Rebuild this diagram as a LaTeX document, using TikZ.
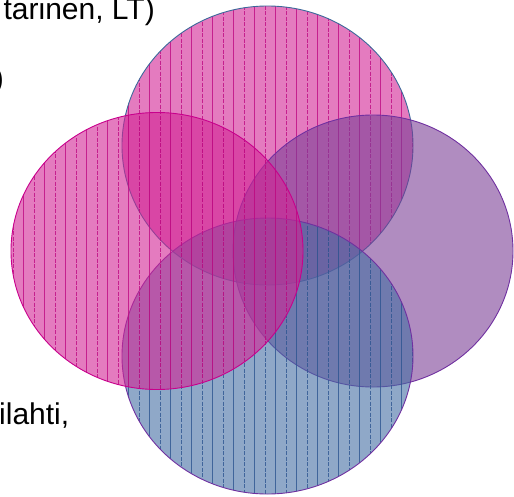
\documentclass[tikz,border=0pt]{standalone}
\usepackage{fontspec}
\setmainfont{Liberation Sans}
\definecolor{pinkfill}{RGB}{210,35,148}
\definecolor{pinkline}{RGB}{190,10,130}
\definecolor{purplefill}{RGB}{123,63,150}
\definecolor{bluefill}{RGB}{68,110,163}
\definecolor{blueline}{RGB}{45,85,145}
\definecolor{topedge}{RGB}{60,105,155}
\definecolor{leftedge}{RGB}{200,0,140}
\definecolor{purpleedge}{RGB}{112,48,160}
\tikzset{
  lbl/.style={inner sep=0pt, font=\fontsize{30}{34}\selectfont, text=black},
  blob/.style={fill opacity=0.6},
  hatch/.style={line width=1pt, draw opacity=0.8},
  rim/.style={line width=0.9pt}
}
\newcommand{\vhatch}[1]{%
  \foreach \k in {0,...,24} {
    \draw[hatch,#1] ({2.5+21*\k},0) -- ({2.5+21*\k},496);
    \draw[hatch,#1,dash pattern=on 4pt off 1.5pt] ({13+21*\k},0) -- ({13+21*\k},496);
  }%
}
\begin{document}
\begin{tikzpicture}[x=1pt,y=-1pt]
\useasboundingbox (0,0) rectangle (514,496);
% texts
\node[lbl, anchor=base east] (t1) at (155,19) {tarinen, LT)};
\node[lbl, anchor=base east] (t2) at (4,88) {)};
\node[lbl, anchor=base west] (t3) at (-1,424) {ilahti,};
% top circle
\fill[pinkfill, blob] (267.5,145.5) ellipse [x radius=145.5pt, y radius=139.5pt];
\begin{scope}
  \clip (267.5,145.5) ellipse [x radius=145.5pt, y radius=139.5pt];
  \vhatch{pinkline}
\end{scope}
\draw[topedge, rim] (267.5,145.5) ellipse [x radius=145.5pt, y radius=139.5pt];
% right circle
\fill[purplefill, blob] (373,251) ellipse [x radius=140pt, y radius=136pt];
\draw[purpleedge, rim] (373,251) ellipse [x radius=140pt, y radius=136pt];
% bottom circle
\fill[bluefill, blob] (267.5,356) ellipse [x radius=145.5pt, y radius=138pt];
\begin{scope}
  \clip (267.5,356) ellipse [x radius=145.5pt, y radius=138pt];
  \vhatch{blueline}
\end{scope}
\draw[purpleedge, rim] (267.5,356) ellipse [x radius=145.5pt, y radius=138pt];
% left circle
\fill[pinkfill, blob] (157,251) ellipse [x radius=146pt, y radius=138.5pt];
\begin{scope}
  \clip (157,251) ellipse [x radius=146pt, y radius=138.5pt];
  \vhatch{pinkline}
\end{scope}
\draw[leftedge, rim] (157,251) ellipse [x radius=146pt, y radius=138.5pt];
\end{tikzpicture}
\end{document}
